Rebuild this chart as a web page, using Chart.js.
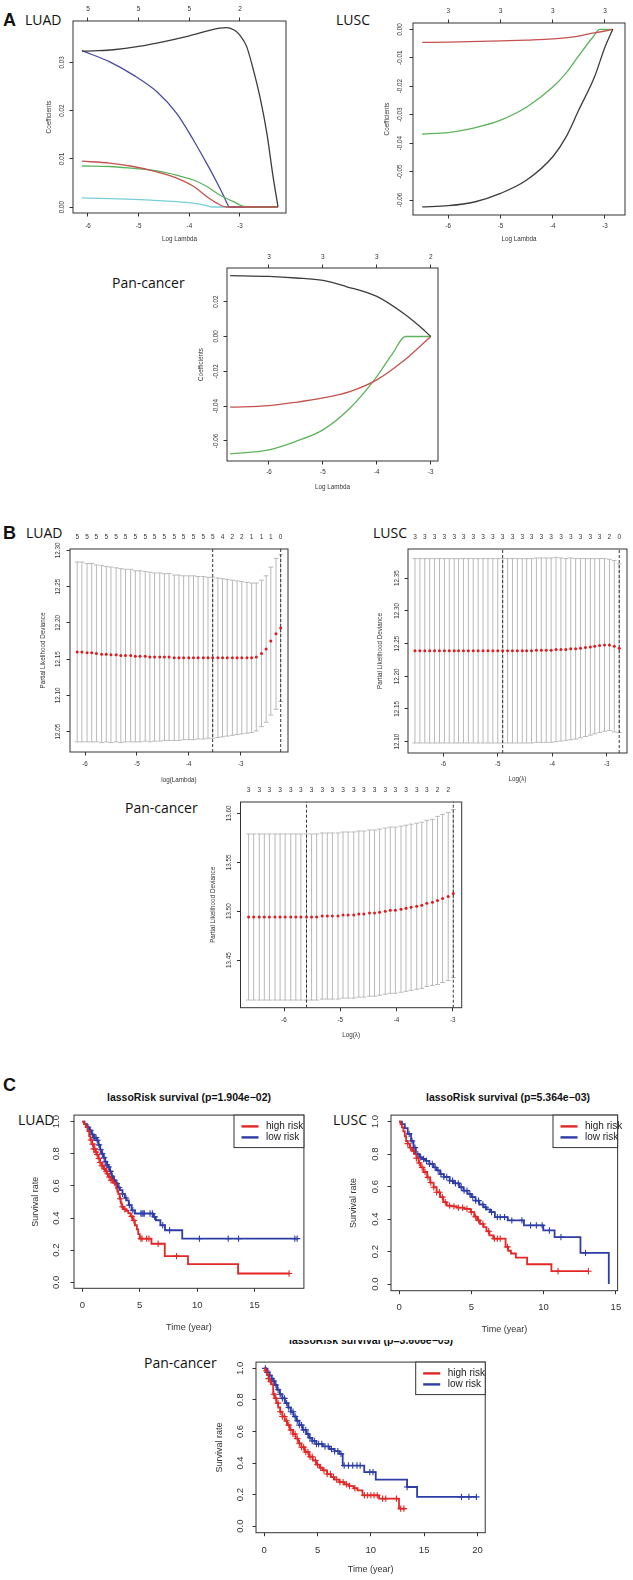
<!DOCTYPE html>
<html>
<head>
<meta charset="utf-8">
<script src="https://cdn.jsdelivr.net/npm/chart.js@4.4.1/dist/chart.umd.min.js"></script>
<style>
  body { margin: 0; background: #fff; width: 633px; height: 1580px; position: relative; overflow: hidden; }
  canvas { position: absolute; }
  .pl { position: absolute; font-family: "Liberation Sans", Arial, sans-serif; font-weight: bold; font-size: 18px; line-height: 18px; color: #111; }
  .lab { position: absolute; font-family: "Open Sans", sans-serif; font-size: 14px; line-height: 14px; color: #111; white-space: nowrap; }
  .ttl { position: absolute; font-family: "Liberation Sans", Arial, sans-serif; font-weight: bold; font-size: 10.5px; line-height: 12px; color: #111; white-space: nowrap; transform: translateX(-50%); }
</style>
</head>
<body>

<div class="pl" style="left:3px;top:11px">A</div>
<div class="lab" style="left:25px;top:12.6px">LUAD</div>
<div class="lab" style="left:336px;top:12.6px">LUSC</div>
<div class="lab" style="left:112px;top:275.6px">Pan-cancer</div>

<div class="pl" style="left:3px;top:524px">B</div>
<div class="lab" style="left:26px;top:525.6px">LUAD</div>
<div class="lab" style="left:373px;top:525.6px">LUSC</div>
<div class="lab" style="left:125px;top:800.6px">Pan-cancer</div>

<div class="pl" style="left:3px;top:1075.6px">C</div>
<div class="ttl" style="left:189px;top:1091px">lassoRisk survival (p=1.904e−02)</div>
<div class="ttl" style="left:508px;top:1091px">lassoRisk survival (p=5.364e−03)</div>
<div style="position:absolute;left:0;top:1339.5px;width:633px;height:10px;overflow:hidden">
  <div class="ttl" style="left:371px;top:-5.1px">lassoRisk survival (p=3.606e−05)</div>
</div>
<div class="lab" style="left:18px;top:1112.6px">LUAD</div>
<div class="lab" style="left:333px;top:1112.6px">LUSC</div>
<div class="lab" style="left:144px;top:1355.6px">Pan-cancer</div>

<canvas id="aLuad"></canvas>
<canvas id="aLusc"></canvas>
<canvas id="aPan"></canvas>
<canvas id="bLuad"></canvas>
<canvas id="bLusc"></canvas>
<canvas id="bPan"></canvas>
<canvas id="cLuad"></canvas>
<canvas id="cLusc"></canvas>
<canvas id="cPan"></canvas>

<script>
// =============================
// Data: A, coefficient paths [log lambda, coefficient]
// =============================
const aTopTicks = [-6, -5, -4, -3];
const aLuadTop = ["5", "5", "5", "2"];
const aLuscTop = ["3", "3", "3", "3"];
const aPanTop = ["3", "3", "3", "2"];

const aLuadBlack = [[-6.12,0.0323],[-5.8,0.0324],[-5.5,0.0326],[-5.0,0.0333],[-4.5,0.0343],[-4.0,0.0355],[-3.6,0.0366],[-3.4,0.0371],[-3.26,0.0372],[-3.1,0.0366],[-3.0,0.0356],[-2.87,0.0333],[-2.75,0.029],[-2.6,0.0225],[-2.47,0.0153],[-2.35,0.0065],[-2.25,0]];
const aLuadRed = [[-6.12,0.0095],[-5.57,0.0091],[-5.11,0.0084],[-4.64,0.0073],[-4.25,0.006],[-3.92,0.0043],[-3.66,0.0022],[-3.46,0.0008],[-3.27,0],[-2.25,0]];
const aLuadGreen = [[-6.12,0.0085],[-5.57,0.0084],[-5.11,0.008],[-4.64,0.0075],[-4.25,0.0066],[-3.92,0.0056],[-3.66,0.0043],[-3.4,0.0025],[-3.13,0.0011],[-2.87,0],[-2.25,0]];
const aLuadBlue = [[-6.12,0.0324],[-5.57,0.0301],[-5.11,0.0274],[-4.64,0.0239],[-4.25,0.0194],[-3.92,0.0139],[-3.66,0.0091],[-3.46,0.0052],[-3.33,0.0025],[-3.2,0],[-2.25,0]];
const aLuadCyan = [[-6.12,0.0019],[-5.11,0.0016],[-4.25,0.0011],[-3.79,0.0006],[-3.53,0],[-2.25,0]];

const aLuscBlack = [[-6.5,-0.0624],[-6,-0.062],[-5.5,-0.0607],[-5,-0.0577],[-4.5,-0.053],[-4,-0.0448],[-3.75,-0.038],[-3.5,-0.0283],[-3.2,-0.0167],[-3,-0.0062],[-2.85,0]];
const aLuscRed = [[-6.5,-0.0046],[-6,-0.0045],[-5,-0.0041],[-4.5,-0.0038],[-4,-0.0034],[-3.6,-0.0027],[-3.33,-0.0017],[-3,-0.0006],[-2.85,0]];
const aLuscGreen = [[-6.5,-0.0368],[-6,-0.0363],[-5.52,-0.0347],[-5,-0.0319],[-4.49,-0.0272],[-4,-0.0203],[-3.75,-0.0155],[-3.52,-0.0097],[-3.23,-0.0027],[-3.1,0],[-2.85,0]];

const aPanBlack = [[-6.72,0.035],[-6,0.0345],[-5.5,0.0336],[-5,0.0322],[-4.57,0.0287],[-4,0.023],[-3.52,0.0136],[-3.2,0.0057],[-3,0]];
const aPanRed = [[-6.72,-0.0406],[-6,-0.0397],[-5.5,-0.0378],[-5,-0.0353],[-4.5,-0.0316],[-4,-0.0249],[-3.52,-0.0144],[-3.2,-0.0057],[-3,0]];
const aPanGreen = [[-6.72,-0.0674],[-6,-0.0651],[-5.5,-0.0602],[-5,-0.0536],[-4.5,-0.0412],[-4,-0.023],[-3.7,-0.0094],[-3.47,0],[-3,0]];

// =============================
// Data: B, cross-validation curves
// =============================
const bLuadLogL = [-6.15,-6.06,-5.96,-5.87,-5.78,-5.68,-5.59,-5.50,-5.40,-5.31,-5.22,-5.12,-5.03,-4.94,-4.84,-4.75,-4.66,-4.56,-4.47,-4.38,-4.28,-4.19,-4.10,-4.00,-3.91,-3.82,-3.72,-3.63,-3.54,-3.44,-3.35,-3.26,-3.16,-3.07,-2.98,-2.88,-2.79,-2.70,-2.60,-2.51,-2.42,-2.32,-2.23];
const bLuadMean = [12.160,12.160,12.159,12.159,12.158,12.157,12.157,12.156,12.156,12.155,12.155,12.155,12.154,12.154,12.154,12.153,12.153,12.153,12.153,12.153,12.152,12.152,12.152,12.152,12.152,12.152,12.152,12.152,12.152,12.152,12.152,12.152,12.152,12.152,12.152,12.152,12.152,12.153,12.158,12.164,12.175,12.185,12.193];
const bLuadSd = [0.124,0.124,0.123,0.123,0.122,0.122,0.121,0.121,0.120,0.120,0.119,0.119,0.118,0.118,0.117,0.117,0.116,0.116,0.115,0.115,0.114,0.114,0.113,0.113,0.113,0.112,0.112,0.111,0.111,0.110,0.109,0.108,0.107,0.106,0.105,0.104,0.103,0.102,0.101,0.101,0.102,0.104,0.101];
const bLuadTop = ["5","5","5","5","5","5","5","5","5","5","5","5","5","5","5","4","2","2","1","1","1","0"];
const bLuadCut = [-3.54, -2.23];

const bLuscLogL = [-6.52,-6.43,-6.34,-6.25,-6.16,-6.07,-5.98,-5.89,-5.80,-5.72,-5.63,-5.54,-5.45,-5.36,-5.27,-5.18,-5.09,-5.00,-4.91,-4.82,-4.73,-4.64,-4.55,-4.47,-4.38,-4.29,-4.20,-4.11,-4.02,-3.93,-3.84,-3.75,-3.66,-3.57,-3.48,-3.39,-3.30,-3.22,-3.13,-3.04,-2.95,-2.86,-2.77];
const bLuscMean = [12.239,12.239,12.239,12.239,12.239,12.239,12.239,12.239,12.239,12.239,12.239,12.239,12.239,12.239,12.239,12.239,12.239,12.239,12.239,12.239,12.239,12.239,12.239,12.239,12.239,12.240,12.240,12.240,12.240,12.241,12.241,12.241,12.242,12.242,12.243,12.244,12.245,12.246,12.247,12.248,12.248,12.246,12.243];
const bLuscSd = [0.141,0.141,0.141,0.141,0.141,0.141,0.141,0.141,0.141,0.141,0.141,0.141,0.141,0.141,0.141,0.141,0.141,0.141,0.141,0.141,0.141,0.141,0.141,0.141,0.141,0.141,0.141,0.141,0.141,0.141,0.140,0.139,0.139,0.138,0.137,0.136,0.135,0.134,0.133,0.132,0.131,0.131,0.129];
const bLuscTop = ["3","3","3","3","3","3","3","3","3","3","3","3","3","3","3","3","3","3","3","3","2","0"];
const bLuscCut = [-4.91, -2.77];

const bPanLogL = [-6.63,-6.54,-6.44,-6.35,-6.26,-6.16,-6.07,-5.98,-5.88,-5.79,-5.70,-5.60,-5.51,-5.42,-5.32,-5.23,-5.14,-5.04,-4.95,-4.86,-4.76,-4.67,-4.58,-4.48,-4.39,-4.30,-4.20,-4.11,-4.02,-3.92,-3.83,-3.74,-3.64,-3.55,-3.46,-3.36,-3.27,-3.18,-3.08,-2.99];
const bPanMean = [13.494,13.494,13.494,13.494,13.494,13.494,13.494,13.494,13.494,13.494,13.494,13.494,13.494,13.494,13.495,13.495,13.495,13.495,13.496,13.496,13.496,13.497,13.497,13.498,13.498,13.499,13.500,13.501,13.501,13.502,13.503,13.504,13.505,13.506,13.508,13.509,13.511,13.513,13.515,13.518];
const bPanSd = [0.085,0.085,0.085,0.085,0.085,0.085,0.085,0.085,0.085,0.085,0.085,0.085,0.085,0.085,0.085,0.085,0.085,0.085,0.085,0.085,0.085,0.085,0.085,0.085,0.085,0.085,0.085,0.085,0.085,0.085,0.085,0.085,0.085,0.085,0.085,0.085,0.086,0.086,0.086,0.086];
const bPanTop = ["3","3","3","3","3","3","3","3","3","3","3","3","3","3","3","3","3","3","2","2"];
const bPanCut = [-5.60, -2.99];

// =============================
// Data: C, Kaplan-Meier steps [time, survival] and censor times
// =============================
const cLuadHigh = [[0,1],[0.15,0.985],[0.3,0.965],[0.45,0.94],[0.6,0.91],[0.7,0.885],[0.85,0.86],[1.0,0.83],[1.15,0.81],[1.25,0.795],[1.4,0.77],[1.55,0.745],[1.7,0.725],[1.85,0.705],[2.0,0.69],[2.12,0.675],[2.3,0.655],[2.5,0.635],[2.7,0.62],[2.84,0.61],[2.95,0.585],[3.05,0.565],[3.13,0.55],[3.25,0.52],[3.35,0.495],[3.42,0.47],[3.6,0.455],[3.8,0.445],[4.0,0.43],[4.2,0.41],[4.4,0.385],[4.58,0.355],[4.75,0.33],[4.87,0.30],[5.0,0.272],[6.02,0.24],[7.18,0.163],[9.2,0.113],[13.56,0.055],[18.05,0.055]];
const cLuadLow = [[0,1],[0.2,0.985],[0.4,0.965],[0.6,0.945],[0.8,0.92],[1.0,0.9],[1.25,0.883],[1.4,0.855],[1.55,0.825],[1.68,0.80],[1.85,0.775],[2.0,0.75],[2.15,0.73],[2.27,0.717],[2.4,0.69],[2.55,0.66],[2.7,0.635],[2.9,0.615],[3.1,0.59],[3.28,0.573],[3.5,0.55],[3.7,0.525],[3.85,0.51],[4.05,0.48],[4.29,0.448],[4.58,0.428],[6.17,0.407],[6.4,0.386],[6.8,0.355],[7.2,0.324],[8.7,0.272],[18.8,0.272]];
const cLuadHighCens = [0.75,0.9,1.0,1.1,1.2,1.3,1.45,1.55,1.7,1.8,1.95,2.1,2.2,2.35,2.5,2.65,2.8,3.3,3.5,3.7,4.3,4.5,5.1,5.2,5.6,5.8,6.6,8.2,18.0];
const cLuadLowCens = [0.5,0.7,0.9,1.0,1.1,1.2,1.3,1.45,1.6,1.75,1.9,2.0,2.15,2.3,2.45,2.6,2.8,3.0,3.2,3.5,3.8,4.1,4.4,5.1,5.2,5.3,5.4,5.9,6.1,6.3,7.0,7.6,10.2,12.7,13.6,18.5,18.7];

const cLuscHigh = [[0,1],[0.1,0.985],[0.2,0.965],[0.3,0.94],[0.4,0.91],[0.49,0.881],[0.6,0.865],[0.75,0.84],[0.9,0.82],[1.05,0.80],[1.2,0.775],[1.35,0.745],[1.5,0.718],[1.7,0.69],[1.94,0.657],[2.15,0.625],[2.39,0.596],[2.6,0.565],[2.84,0.535],[3.06,0.504],[3.3,0.483],[3.62,0.478],[4.0,0.47],[4.51,0.463],[4.96,0.443],[5.2,0.415],[5.4,0.392],[5.6,0.37],[5.85,0.351],[6.05,0.325],[6.25,0.30],[6.52,0.28],[7.37,0.229],[7.55,0.205],[7.74,0.188],[8.08,0.163],[8.86,0.122],[10.54,0.079],[13.1,0.079]];
const cLuscLow = [[0,1],[0.2,0.985],[0.4,0.96],[0.6,0.925],[0.83,0.881],[1.0,0.84],[1.16,0.80],[1.4,0.78],[1.6,0.77],[1.83,0.759],[2.1,0.74],[2.39,0.718],[2.6,0.70],[2.84,0.677],[3.1,0.66],[3.5,0.636],[3.8,0.62],[4.18,0.596],[4.45,0.575],[4.74,0.555],[5.0,0.535],[5.29,0.514],[5.55,0.49],[5.85,0.473],[6.05,0.46],[6.3,0.443],[6.63,0.412],[7.52,0.392],[8.64,0.361],[9.98,0.33],[10.76,0.289],[12.55,0.192],[14.51,0.0]];
const cLuscHighCens = [0.6,0.8,1.0,1.2,1.4,1.6,1.8,2.0,2.2,2.4,2.6,2.8,3.0,3.2,3.5,3.8,4.1,4.4,4.7,5.0,5.3,5.5,5.8,6.2,6.6,6.8,7.0,7.5,11.0,13.1];
const cLuscLowCens = [0.7,0.9,1.1,1.3,1.5,1.7,1.9,2.1,2.3,2.5,2.7,2.9,3.1,3.3,3.5,3.7,3.9,4.1,4.3,4.5,4.7,4.9,5.1,5.3,5.5,5.8,6.0,6.4,6.8,7.0,7.3,7.8,8.5,9.1,9.5,9.9,10.4,11.2,12.9];

const cPanHigh = [[0,1],[0.1,0.985],[0.25,0.96],[0.4,0.935],[0.55,0.915],[0.69,0.899],[0.84,0.836],[1.0,0.81],[1.15,0.78],[1.31,0.752],[1.5,0.725],[1.7,0.695],[1.93,0.668],[2.15,0.64],[2.4,0.61],[2.7,0.584],[2.95,0.555],[3.2,0.525],[3.48,0.50],[3.8,0.47],[4.2,0.44],[4.56,0.416],[4.9,0.39],[5.2,0.37],[5.5,0.353],[5.9,0.33],[6.27,0.311],[6.6,0.295],[7.05,0.279],[7.5,0.265],[7.98,0.254],[8.4,0.24],[8.75,0.227],[9.22,0.195],[10.77,0.174],[12.64,0.111],[13.26,0.111]];
const cPanLow = [[0,1],[0.15,0.99],[0.3,0.975],[0.5,0.955],[0.7,0.935],[0.84,0.92],[1.0,0.895],[1.2,0.865],[1.46,0.836],[1.7,0.81],[1.95,0.78],[2.24,0.752],[2.5,0.725],[2.75,0.695],[3.01,0.668],[3.3,0.64],[3.6,0.61],[3.94,0.584],[4.2,0.56],[4.5,0.54],[4.88,0.521],[5.5,0.505],[6.12,0.489],[6.6,0.475],[7.05,0.458],[7.36,0.384],[9.38,0.342],[10.46,0.294],[13.4,0.248],[14.34,0.185],[19.93,0.185]];
const cPanHighCens = [0.2,0.4,0.6,0.9,1.1,1.3,1.5,1.7,1.9,2.1,2.3,2.5,2.7,2.9,3.1,3.3,3.5,3.7,3.9,4.1,4.3,4.5,4.8,5.0,5.3,5.6,5.9,6.2,6.5,6.8,7.1,7.4,7.7,8.0,8.5,9.4,9.7,10.0,10.3,10.6,11.1,11.4,12.4,12.8,13.1];
const cPanLowCens = [0.1,0.3,0.5,0.7,0.9,1.1,1.3,1.5,1.7,1.9,2.1,2.3,2.5,2.7,2.9,3.1,3.3,3.5,3.7,3.9,4.1,4.3,4.5,4.7,4.9,5.1,5.4,5.7,6.0,6.3,6.6,6.9,7.2,7.5,7.9,8.3,8.7,9.0,9.9,10.2,13.4,18.5,19.2,19.9];

const survTicks = [0, 0.2, 0.4, 0.6, 0.8, 1.0];
const riskLabels = ["high risk", "low risk"];

// =============================
// Style
// =============================
const FONT = "'Liberation Sans', Arial, Helvetica, sans-serif";
const AXIS = "#333";
const COL = { black: "#3c3c3c", red: "#c4524e", green: "#5db35d", blue: "#4a4a9c", cyan: "#78cfdc" };
const KM_RED = "#e32626", KM_BLUE = "#2d3ca6";

const pairs = arr => arr.map(p => ({ x: p[0], y: p[1] }));

function survAt(steps, t) {
  let s = 1;
  for (const [ts, v] of steps) { if (ts <= t) s = v; else break; }
  return s;
}

// =============================
// Chart builder: frame given in page pixels
// =============================
function buildChart(id, cfg) {
  const f = cfg.frame;
  const left = Math.floor(cfg.yTitleX - 8);
  const top = Math.floor(cfg.topY != null ? cfg.topY - 6 : f.t - 4);
  const w = Math.ceil(f.r + 4) - left;
  const h = Math.ceil(cfg.xTitleY + 7) - top;
  const pad = { l: f.l - left, t: f.t - top, r: left + w - f.r, b: top + h - f.b };

  const cv = document.getElementById(id);
  cv.width = w; cv.height = h;
  cv.style.left = left + "px"; cv.style.top = top + "px";
  cv.style.width = w + "px"; cv.style.height = h + "px";

  const ts = cfg.tickSize, tt = cfg.titleSize, tl = 3.5;
  const tickGrid = { display: true, drawOnChartArea: false, drawTicks: true, tickLength: tl, tickColor: AXIS, tickWidth: 1 };

  const scales = {
    x: {
      type: "linear", position: "bottom", min: cfg.xMin, max: cfg.xMax,
      afterBuildTicks: s => { s.ticks = cfg.xTicks.map(v => ({ value: v })); },
      afterFit: s => { s.height = pad.b; },
      grid: tickGrid, border: { display: false },
      ticks: {
        autoSkip: false, maxRotation: 0, minRotation: 0, color: AXIS,
        font: { family: FONT, size: ts },
        padding: cfg.xTickY - f.b - tl - 0.6 * ts,
        callback: v => String(v)
      },
      title: {
        display: true, text: cfg.xTitle, color: AXIS, font: { family: FONT, size: tt },
        padding: { top: 0, bottom: top + h - cfg.xTitleY - 0.6 * tt }
      }
    },
    y: {
      type: "linear", position: "left", min: cfg.yMin, max: cfg.yMax,
      afterBuildTicks: s => { s.ticks = cfg.yTicks.map(v => ({ value: v })); },
      afterFit: s => { s.width = pad.l; },
      grid: tickGrid, border: { display: false },
      ticks: { display: false },
      title: {
        display: true, text: cfg.yTitle, color: AXIS, font: { family: FONT, size: tt },
        padding: { top: cfg.yTitleX - left - 0.6 * tt, bottom: 0 }
      }
    }
  };

  if (cfg.topTicks) {
    const ttl = cfg.topMarks ? tl : 0;
    scales.xt = {
      type: "linear", position: "top", min: cfg.xMin, max: cfg.xMax,
      afterBuildTicks: s => { s.ticks = cfg.topTicks.map(v => ({ value: v })); },
      afterFit: s => { s.height = pad.t; },
      grid: { display: cfg.topMarks, drawOnChartArea: false, drawTicks: cfg.topMarks, tickLength: tl, tickColor: AXIS },
      border: { display: false },
      ticks: {
        autoSkip: false, maxRotation: 0, minRotation: 0, color: AXIS,
        font: { family: FONT, size: cfg.topSize },
        padding: f.t - ttl - 0.6 * cfg.topSize - cfg.topY,
        callback: (v, i) => cfg.topLabels[i]
      }
    };
  }

  // frame box + rotated y tick labels (R style)
  const framePlugin = {
    id: "frame",
    afterDraw(chart) {
      const { ctx, chartArea: a } = chart;
      ctx.save();
      ctx.strokeStyle = AXIS; ctx.lineWidth = 1;
      ctx.strokeRect(a.left, a.top, a.right - a.left, a.bottom - a.top);
      const s = chart.scales.y;
      ctx.fillStyle = AXIS; ctx.font = ts + "px " + FONT;
      ctx.textAlign = "center"; ctx.textBaseline = "middle";
      s.ticks.forEach(t => {
        ctx.save();
        ctx.translate(cfg.yTickX - left, s.getPixelForValue(t.value));
        ctx.rotate(-Math.PI / 2);
        ctx.fillText(t.value.toFixed(cfg.yDec), 0, 0);
        ctx.restore();
      });
      ctx.restore();
    }
  };

  const plugins = [framePlugin].concat(cfg.plugins || []);

  return new Chart(cv, {
    type: "line",
    data: { datasets: cfg.datasets },
    options: {
      responsive: false, maintainAspectRatio: false, animation: false, devicePixelRatio: 1,
      layout: { padding: { left: 0, right: pad.r, top: cfg.topTicks ? 0 : pad.t, bottom: 0 } },
      plugins: { legend: { display: false }, tooltip: { enabled: false }, title: { display: false } },
      scales: scales
    },
    plugins: plugins
  });
}

// =============================
// Panel A
// =============================
function pathSet(arr, color) {
  return { data: pairs(arr), borderColor: color, borderWidth: 1.3, pointRadius: 0, fill: false, cubicInterpolationMode: "monotone" };
}

const aCommon = { tickSize: 6.3, titleSize: 6.3, topSize: 6.5, topMarks: true, xTicks: [-6, -5, -4, -3], topTicks: aTopTicks, yDec: 2, xTitle: "Log Lambda", yTitle: "Coefficients" };

buildChart("aLuad", Object.assign({}, aCommon, {
  frame: { l: 73, t: 21, r: 286, b: 213 }, xMin: -6.296, xMax: -2.092, yMin: -0.00124, yMax: 0.03856,
  yTicks: [0, 0.01, 0.02, 0.03], topLabels: aLuadTop, topY: 9.5,
  xTickY: 226, xTitleY: 239, yTickX: 62, yTitleX: 49,
  datasets: [pathSet(aLuadBlack, COL.black), pathSet(aLuadRed, COL.red), pathSet(aLuadGreen, COL.green), pathSet(aLuadBlue, COL.blue), pathSet(aLuadCyan, COL.cyan)]
}));

buildChart("aLusc", Object.assign({}, aCommon, {
  frame: { l: 413, t: 23, r: 625, b: 215 }, xMin: -6.676, xMax: -2.617, yMin: -0.06527, yMax: 0.00221,
  yTicks: [-0.06, -0.05, -0.04, -0.03, -0.02, -0.01, 0], topLabels: aLuscTop, topY: 11,
  xTickY: 226, xTitleY: 239, yTickX: 400.7, yTitleX: 387.7,
  datasets: [pathSet(aLuscBlack, COL.black), pathSet(aLuscRed, COL.red), pathSet(aLuscGreen, COL.green)]
}));

buildChart("aPan", Object.assign({}, aCommon, {
  frame: { l: 227, t: 268, r: 438, b: 461 }, xMin: -6.779, xMax: -2.865, yMin: -0.0715, yMax: 0.03933,
  yTicks: [-0.06, -0.04, -0.02, 0, 0.02], topLabels: aPanTop, topY: 257.3,
  xTickY: 472.3, xTitleY: 487, yTickX: 216.7, yTitleX: 201.7,
  datasets: [pathSet(aPanBlack, COL.black), pathSet(aPanRed, COL.red), pathSet(aPanGreen, COL.green)]
}));

// =============================
// Panel B
// =============================
function errBars(xs, mean, sd) {
  return {
    id: "errbars",
    beforeDatasetsDraw(chart) {
      const { ctx, scales: { x, y } } = chart;
      ctx.save();
      ctx.strokeStyle = "#b9b9b9"; ctx.lineWidth = 1;
      xs.forEach((v, i) => {
        const px = x.getPixelForValue(v);
        const y1 = y.getPixelForValue(mean[i] + sd[i]), y2 = y.getPixelForValue(mean[i] - sd[i]);
        ctx.beginPath();
        ctx.moveTo(px, y1); ctx.lineTo(px, y2);
        ctx.moveTo(px - 2.4, y1); ctx.lineTo(px + 2.4, y1);
        ctx.moveTo(px - 2.4, y2); ctx.lineTo(px + 2.4, y2);
        ctx.stroke();
      });
      ctx.restore();
    }
  };
}

function cvSets(xs, mean, cuts, yMin, yMax) {
  const sets = [{
    type: "scatter", data: xs.map((x, i) => ({ x: x, y: mean[i] })),
    pointRadius: 1.5, pointBackgroundColor: "#e31a1c", pointBorderWidth: 0, showLine: false
  }];
  cuts.forEach(c => sets.push({
    data: [{ x: c, y: yMin }, { x: c, y: yMax }], borderColor: "#222", borderWidth: 0.9,
    borderDash: [3, 2], pointRadius: 0, fill: false
  }));
  return sets;
}

const bCommon = { tickSize: 6.3, titleSize: 6.3, topSize: 6.5, topMarks: false, xTicks: [-6, -5, -4, -3], yDec: 2, yTitle: "Partial Likelihood Deviance" };

buildChart("bLuad", Object.assign({}, bCommon, {
  frame: { l: 70, t: 549, r: 288, b: 752 }, xMin: -6.289, xMax: -2.089, yMin: 12.022, yMax: 12.302,
  yTicks: [12.05, 12.10, 12.15, 12.20, 12.25, 12.30],
  topTicks: bLuadLogL.filter((v, i) => i % 2 === 0), topLabels: bLuadTop, topY: 537,
  xTitle: "log(Lambda)", xTickY: 764, xTitleY: 780, yTickX: 58, yTitleX: 43.3,
  datasets: cvSets(bLuadLogL, bLuadMean, bLuadCut, 12.022, 12.302),
  plugins: [errBars(bLuadLogL, bLuadMean, bLuadSd)]
}));

buildChart("bLusc", Object.assign({}, bCommon, {
  frame: { l: 408, t: 549, r: 627, b: 753 }, xMin: -6.648, xMax: -2.627, yMin: 12.0827, yMax: 12.3947,
  yTicks: [12.10, 12.15, 12.20, 12.25, 12.30, 12.35],
  topTicks: bLuscLogL.filter((v, i) => i % 2 === 0), topLabels: bLuscTop, topY: 537,
  xTitle: "Log(λ)", xTickY: 764, xTitleY: 779, yTickX: 397, yTitleX: 380.7,
  datasets: cvSets(bLuscLogL, bLuscMean, bLuscCut, 12.0827, 12.3947),
  plugins: [errBars(bLuscLogL, bLuscMean, bLuscSd)]
}));

buildChart("bPan", Object.assign({}, bCommon, {
  frame: { l: 240.5, t: 802, r: 461.7, b: 1007.7 }, xMin: -6.774, xMax: -2.84, yMin: 13.4012, yMax: 13.6117,
  yTicks: [13.45, 13.50, 13.55, 13.60],
  topTicks: bPanLogL.filter((v, i) => i % 2 === 0), topLabels: bPanTop, topY: 790,
  xTitle: "Log(λ)", xTickY: 1020, xTitleY: 1035, yTickX: 229.3, yTitleX: 213.3,
  datasets: cvSets(bPanLogL, bPanMean, bPanCut, 13.4012, 13.6117),
  plugins: [errBars(bPanLogL, bPanMean, bPanSd)]
}));

// =============================
// Panel C
// =============================
function kmSets(high, low, highCens, lowCens) {
  const line = (steps, color) => ({
    data: pairs(steps), stepped: "before", borderColor: color, borderWidth: 1.8, pointRadius: 0, fill: false
  });
  const cens = (times, steps, color) => ({
    type: "scatter", data: times.map(t => ({ x: t, y: survAt(steps, t) })),
    pointStyle: "cross", pointRadius: 3.2, borderColor: color, pointBorderColor: color, pointBorderWidth: 1.1, showLine: false
  });
  return [line(high, KM_RED), line(low, KM_BLUE), cens(highCens, high, KM_RED), cens(lowCens, low, KM_BLUE)];
}

function kmLegend(boxLeft) {
  return {
    id: "kmlegend",
    afterDraw(chart) {
      const { ctx, chartArea: a } = chart;
      const l = boxLeft - parseFloat(chart.canvas.style.left);
      const t = a.top, r = a.right, h = 32.5;
      ctx.save();
      ctx.fillStyle = "#fff"; ctx.fillRect(l, t, r - l, h);
      ctx.strokeStyle = AXIS; ctx.lineWidth = 1; ctx.strokeRect(l, t, r - l, h);
      ctx.font = "10px " + FONT; ctx.textBaseline = "middle"; ctx.textAlign = "left";
      [KM_RED, KM_BLUE].forEach((c, i) => {
        const y = t + 11.3 + i * 11;
        ctx.strokeStyle = c; ctx.lineWidth = 2.4;
        ctx.beginPath(); ctx.moveTo(l + 7.5, y); ctx.lineTo(l + 24.5, y); ctx.stroke();
        ctx.fillStyle = "#222"; ctx.fillText(riskLabels[i], l + 32, y);
      });
      ctx.restore();
    }
  };
}

const cCommon = { tickSize: 9.5, titleSize: 9, yDec: 1, yTicks: survTicks, xTitle: "Time (year)", yTitle: "Survival rate" };

buildChart("cLuad", Object.assign({}, cCommon, {
  frame: { l: 74, t: 1114.6, r: 304.3, b: 1288.3 }, xMin: -0.721, xMax: 19.29, yMin: -0.0372, yMax: 1.0403,
  xTicks: [0, 5, 10, 15], xTickY: 1305.7, xTitleY: 1327.3, yTickX: 56.7, yTitleX: 36,
  datasets: kmSets(cLuadHigh, cLuadLow, cLuadHighCens, cLuadLowCens),
  plugins: [kmLegend(234)]
}));

buildChart("cLusc", Object.assign({}, cCommon, {
  frame: { l: 391, t: 1114, r: 625, b: 1290.7 }, xMin: -0.556, xMax: 15.12, yMin: -0.041, yMax: 1.0404,
  xTicks: [0, 5, 10, 15], xTickY: 1307.7, xTitleY: 1330, yTickX: 375, yTitleX: 354,
  datasets: kmSets(cLuscHigh, cLuscLow, cLuscHighCens, cLuscLowCens),
  plugins: [kmLegend(553)]
}));

buildChart("cPan", Object.assign({}, cCommon, {
  frame: { l: 256, t: 1361, r: 487, b: 1532.7 }, xMin: -0.773, xMax: 20.73, yMin: -0.042, yMax: 1.04,
  xTicks: [0, 5, 10, 15, 20], xTickY: 1550, xTitleY: 1570, yTickX: 240, yTitleX: 219.3,
  datasets: kmSets(cPanHigh, cPanLow, cPanHighCens, cPanLowCens),
  plugins: [kmLegend(415.7)]
}));
</script>
</body>
</html>
